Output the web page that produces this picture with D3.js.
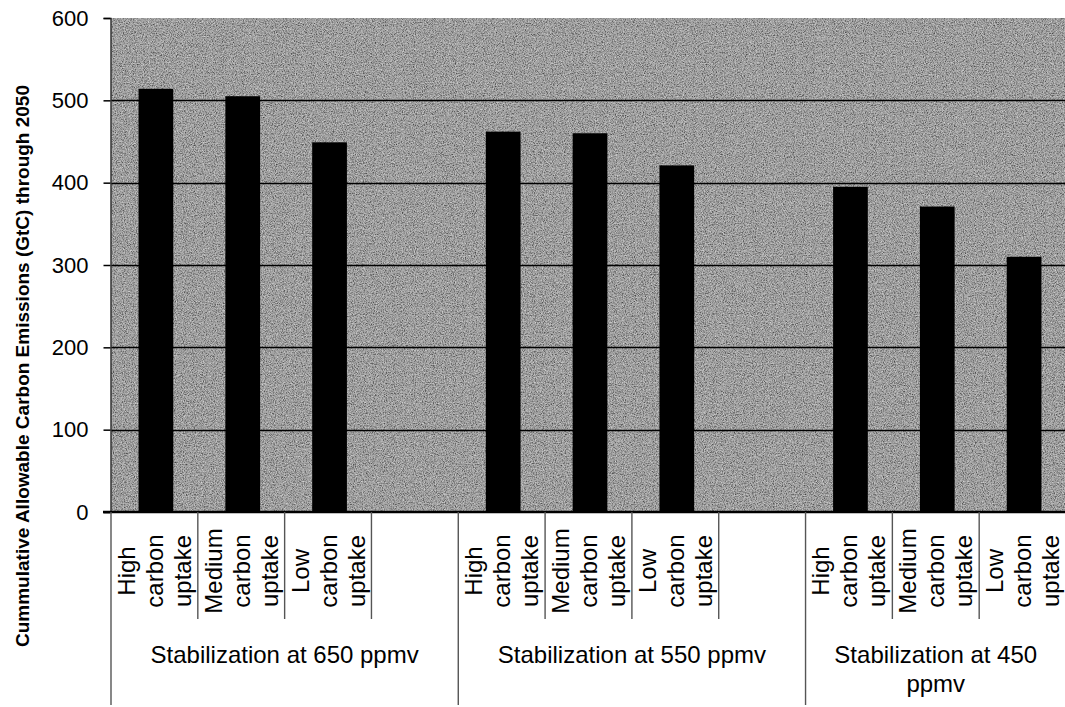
<!DOCTYPE html>
<html>
<head>
<meta charset="utf-8">
<script src="https://cdn.jsdelivr.net/npm/d3@7"></script>
<style>
  html, body { margin: 0; padding: 0; background: #fff; }
  svg { display: block; font-family: Arial, "Liberation Sans", Helvetica, sans-serif; }
</style>
</head>
<body>
<svg id="chart" width="1065" height="707"></svg>
<script>
// ---- data ----
const groupLabels = ["Stabilization at 650 ppmv", "Stabilization at 550 ppmv", "Stabilization at 450 ppmv"];
const scenarioLabels = ["High carbon uptake", "Medium carbon uptake", "Low carbon uptake"];
const values650 = [514, 505, 449];
const values550 = [462, 460, 421];
const values450 = [395, 371, 310];
const yTickValues = [0, 100, 200, 300, 400, 500, 600];
const yTitle = "Cummulative Allowable Carbon Emissions (GtC) through 2050";

const groupValues = [values650, values550, values450];

// slots: 3 scenarios per group plus an empty slot between groups
const slots = [];
groupLabels.forEach((g, gi) => {
  scenarioLabels.forEach((s, si) => {
    slots.push({ id: gi + "-" + si, group: gi, label: s, value: groupValues[gi][si] });
  });
  if (gi < groupLabels.length - 1) slots.push({ id: gi + "-blank", group: gi, label: "", value: null });
});

// ---- layout ----
const svg = d3.select("#chart");
const pL = 111, pR = 1066, pT = 18, pB = 512;

const x = d3.scaleBand().domain(slots.map(d => d.id)).range([pL, pR])
  .paddingInner(0.6).paddingOuter(0.3);
const step = x.step();
const y = d3.scaleLinear().domain([0, 600]).range([pB, pT]);

// noise texture for plot background
const defs = svg.append("defs");
const f = defs.append("filter").attr("id", "grain").attr("x", 0).attr("y", 0).attr("width", 1).attr("height", 1);
f.append("feTurbulence").attr("type", "fractalNoise").attr("baseFrequency", 0.9).attr("numOctaves", 2).attr("seed", 3).attr("result", "n");
f.append("feColorMatrix").attr("type", "matrix")
  .attr("values", "0 0 0 0 0  0 0 0 0 0  0 0 0 0 0  0 0 0 -2.2 1.25");
const f2 = defs.append("filter").attr("id", "grain2").attr("x", 0).attr("y", 0).attr("width", 1).attr("height", 1);
f2.append("feTurbulence").attr("type", "fractalNoise").attr("baseFrequency", 0.85).attr("numOctaves", 2).attr("seed", 11).attr("result", "n");
f2.append("feColorMatrix").attr("type", "matrix")
  .attr("values", "0 0 0 0 1  0 0 0 0 1  0 0 0 0 1  0 0 0 -2.4 1.3");

svg.append("rect").attr("x", pL).attr("y", pT).attr("width", pR - pL).attr("height", pB - pT)
  .attr("fill", "#a4a4a4");
svg.append("rect").attr("x", pL).attr("y", pT).attr("width", pR - pL).attr("height", pB - pT)
  .attr("filter", "url(#grain)").attr("opacity", 0.6);
svg.append("rect").attr("x", pL).attr("y", pT).attr("width", pR - pL).attr("height", pB - pT)
  .attr("filter", "url(#grain2)").attr("opacity", 0.55);

// gridlines
svg.append("g").selectAll("line").data(yTickValues.filter(v => v > 0 && v < 600)).join("line")
  .attr("x1", pL).attr("x2", pR)
  .attr("y1", d => Math.round(y(d)) + 0.5).attr("y2", d => Math.round(y(d)) + 0.5)
  .attr("stroke", "#000").attr("stroke-width", 1.3);

// bars
svg.append("g").selectAll("rect").data(slots.filter(d => d.value != null)).join("rect")
  .attr("x", d => x(d.id) + 1.5).attr("width", x.bandwidth())
  .attr("y", d => y(d.value)).attr("height", d => y(0) - y(d.value))
  .attr("fill", "#000");

// y axis
const yAxis = d3.axisLeft(y).tickValues(yTickValues).tickSize(7).tickPadding(15).tickFormat(d3.format("d"));
const yg = svg.append("g").attr("transform", `translate(${pL - 0.5},0)`).call(yAxis);
yg.select(".domain").attr("stroke", "#333").attr("stroke-width", 1.5);
yg.selectAll(".tick line").attr("stroke", "#000").attr("stroke-width", 1.5);
yg.selectAll(".tick text").attr("font-size", 22).attr("fill", "#000")
  .attr("font-family", "Arial, 'Liberation Sans', sans-serif");

// x axis baseline
svg.append("line").attr("x1", pL - 8).attr("x2", pR).attr("y1", pB).attr("y2", pB)
  .attr("stroke", "#000").attr("stroke-width", 2.5);

// category tick lines (slot boundaries)
const boundaries = [];
slots.forEach((d, i) => {
  const xs = pL + i * step;
  const isGroupStart = i === 0 || slots[i - 1].group !== d.group;
  boundaries.push({ x: xs, group: isGroupStart });
});
svg.append("g").selectAll("line").data(boundaries).join("line")
  .attr("x1", d => d.x).attr("x2", d => d.x)
  .attr("y1", pB).attr("y2", d => d.group ? 705 : 619)
  .attr("stroke", "#555").attr("stroke-width", 1.4);

// category labels: one word per line, rotated
const catG = svg.append("g");
slots.filter(d => d.label).forEach(d => {
  const words = d.label.split(" ");
  const cx = x(d.id) + x.bandwidth() / 2 + 1.5;
  words.forEach((w, wi) => {
    const bx = cx + (wi - (words.length - 1) / 2) * 28 + 7;
    catG.append("text")
      .attr("transform", `translate(${bx},571) rotate(-90)`)
      .attr("text-anchor", "middle")
      .attr("font-size", 24).attr("fill", "#000")
      .text(w);
  });
});

// group labels (wrapped to group width)
function groupExtent(gi) {
  const idx = slots.map((d, i) => i).filter(i => slots[i].group === gi && (slots[i].value != null));
  const start = pL + idx[0] * step;
  const endIdx = gi < groupLabels.length - 1 ? idx[idx.length - 1] + 2 : idx[idx.length - 1] + 1;
  return [start, Math.min(pL + endIdx * step, pR)];
}
groupLabels.forEach((g, gi) => {
  const [a, b] = groupExtent(gi);
  const cx = (a + b) / 2;
  const maxW = b - a - 8;
  const t = svg.append("text").attr("text-anchor", "middle").attr("font-size", 24).attr("fill", "#000");
  const words = g.split(" ");
  let line = [], lineNo = 0;
  let ts = t.append("tspan").attr("x", cx).attr("y", 663);
  words.forEach(w => {
    line.push(w);
    ts.text(line.join(" "));
    if (ts.node().getComputedTextLength() > maxW && line.length > 1) {
      line.pop();
      ts.text(line.join(" "));
      line = [w];
      lineNo++;
      ts = t.append("tspan").attr("x", cx).attr("y", 663 + lineNo * 29).text(w);
    }
  });
});

// y title
svg.append("text")
  .attr("transform", `translate(29,366) rotate(-90)`)
  .attr("text-anchor", "middle")
  .attr("font-size", 19).attr("font-weight", "bold").attr("fill", "#000")
  .text(yTitle);
</script>
</body>
</html>
